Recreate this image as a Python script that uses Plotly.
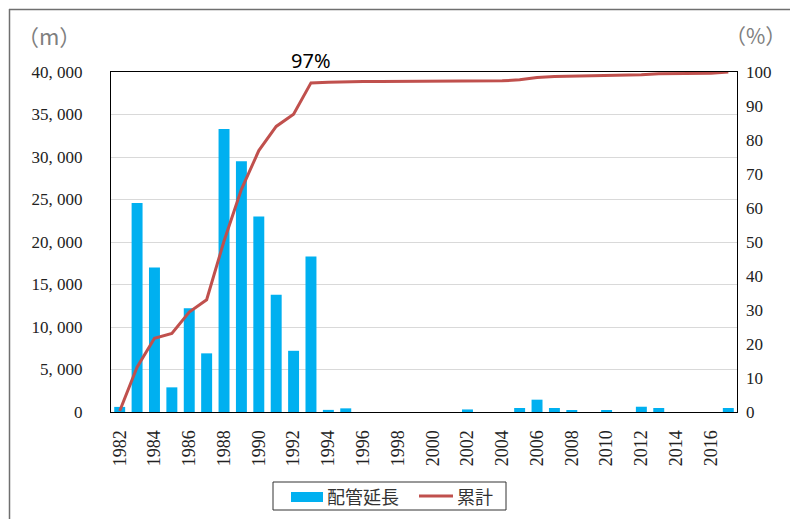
import plotly.graph_objects as go

# Pipe length installed per year (m) and cumulative share (%)
years = [str(y) for y in range(1982, 2018)]
pipe_length = [600, 24600, 17000, 2900, 12200, 6900, 33300, 29500, 23000, 13800,
               7200, 18300, 250, 430, 0, 0, 0, 0, 0, 0,
               300, 0, 0, 470, 1450, 470, 150, 0, 150, 0,
               620, 470, 0, 0, 0, 470]
cumulative_pct = [0.3, 13.2, 21.7, 23.1, 29.4, 33.0, 50.3, 65.5, 76.9, 84.0,
                  87.6, 96.8, 97.0, 97.2, 97.2, 97.2, 97.2, 97.2, 97.2, 97.2,
                  97.4, 97.4, 97.4, 97.7, 98.4, 98.7, 98.8, 98.8, 98.9, 98.9,
                  99.2, 99.5, 99.5, 99.5, 99.6, 100.0]
left_ticks = [0, 5000, 10000, 15000, 20000, 25000, 30000, 35000, 40000]
right_ticks = list(range(0, 101, 10))
x_ticks = years[::2]
series_names = ["配管延長", "累計"]
highlight_year = "1993"

W, H = 790, 519
L, R, T, B = 111, 737, 72, 412
pw, ph = R - L, B - T


def px(x):
    return (x - L) / pw


def py(y):
    return (B - y) / ph


serif = "Liberation Serif, DejaVu Serif, serif"
cjk = "Noto Sans CJK JP"
bar_color = "#00B0F0"
line_color = "#C0504D"

fig = go.Figure()
fig.add_trace(go.Bar(x=years, y=pipe_length, name=series_names[0],
                     marker=dict(color=bar_color, line=dict(width=0)),
                     showlegend=False))
fig.add_trace(go.Scatter(x=years, y=cumulative_pct, name=series_names[1], yaxis="y2",
                         mode="lines", line=dict(color=line_color, width=3),
                         showlegend=False))

fig.update_layout(
    width=W, height=H,
    margin=dict(l=L, r=W - R, t=T, b=H - B),
    paper_bgcolor="white", plot_bgcolor="white",
    bargap=0.37,
    xaxis=dict(type="category", range=[-0.5, len(years) - 0.5],
               tickmode="array", tickvals=x_ticks, ticktext=x_ticks,
               tickangle=-90, tickfont=dict(family=serif, size=18, color="#222"),
               showline=True, linecolor="black", linewidth=1.2, mirror=True,
               showgrid=False, ticks="", ticklabelstandoff=10),
    yaxis=dict(range=[0, 40000], tickmode="array", tickvals=left_ticks,
               ticktext=[f"{v:,}".replace(",", ", ") for v in left_ticks],
               tickfont=dict(family=serif, size=17, color="#222"),
               showline=True, linecolor="black", linewidth=1.2, mirror=True,
               showgrid=True, gridcolor="#d9d9d9", gridwidth=1,
               zeroline=False, ticks="", ticklabelstandoff=24),
    yaxis2=dict(range=[0, 100], overlaying="y", side="right", tickmode="array",
                tickvals=right_ticks, ticktext=[str(v) for v in right_ticks],
                tickfont=dict(family=serif, size=17, color="#222"),
                showgrid=False, zeroline=False, ticks="", ticklabelstandoff=8,
                showline=False),
)

hi = years.index(highlight_year)
annotations = [
    dict(x=hi, y=py(61), xref="x", yref="paper",
         text=f"{round(cumulative_pct[hi])}%", showarrow=False,
         font=dict(family="Noto Sans", size=20, color="black"),
         xanchor="center", yanchor="middle"),
    dict(x=px(49), y=py(35), xref="paper", yref="paper", text="（m）",
         showarrow=False, font=dict(family=cjk, size=22, color="#7f7f7f"),
         xanchor="center", yanchor="middle"),
    dict(x=px(788), y=py(35), xref="paper", yref="paper", text="（%）",
         showarrow=False, font=dict(family=cjk, size=21, color="#7f7f7f"),
         xanchor="right", yanchor="middle"),
    # legend labels
    dict(x=px(325), y=py(496), xref="paper", yref="paper", text=series_names[0],
         showarrow=False, font=dict(family=cjk, size=18, color="#333"),
         xanchor="left", yanchor="middle"),
    dict(x=px(455), y=py(496), xref="paper", yref="paper", text=series_names[1],
         showarrow=False, font=dict(family=cjk, size=18, color="#333"),
         xanchor="left", yanchor="middle"),
]

shapes = [
    # outer frame (top and left edges)
    dict(type="line", xref="paper", yref="paper", x0=px(9), y0=py(9.5), x1=px(W + 5), y1=py(9.5),
         line=dict(color="#6f6f6f", width=1.5)),
    dict(type="line", xref="paper", yref="paper", x0=px(9.5), y0=py(9), x1=px(9.5), y1=py(H + 5),
         line=dict(color="#6f6f6f", width=1.5)),
    # legend box and swatches
    dict(type="rect", xref="paper", yref="paper", x0=px(273), y0=py(482), x1=px(506), y1=py(510),
         line=dict(color="#333", width=1), fillcolor="rgba(0,0,0,0)"),
    dict(type="rect", xref="paper", yref="paper", x0=px(291), y0=py(492), x1=px(323), y1=py(502),
         line=dict(width=0), fillcolor=bar_color),
    dict(type="line", xref="paper", yref="paper", x0=px(419), y0=py(496), x1=px(453), y1=py(496),
         line=dict(color=line_color, width=3)),
]

fig.update_layout(annotations=annotations, shapes=shapes)
fig.write_html("out.html")
